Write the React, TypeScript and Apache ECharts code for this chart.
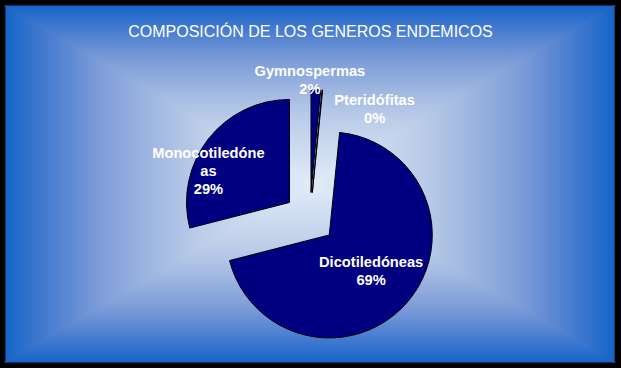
import React, { useEffect, useRef } from "react";
import * as echarts from "echarts";

const categories = ["Gymnospermas", "Pteridófitas", "Dicotiledóneas", "Monocotiledóneas"];
const displayNames = ["Gymnospermas", "Pteridófitas", "Dicotiledóneas", "Monocotiledóne\nas"];
const values = [1.5, 0.1, 69.4, 29.0];
const titleText = "COMPOSICIÓN DE LOS GENEROS ENDEMICOS";

// label nudges (px) relative to the "inside" position
const labelShift = [
  [-3.7, -57.8],
  [57, -29.2],
  [0.5, 0.3],
  [-38, 2],
];

const W = 621;
const H = 368;
const X0 = 6, X1 = 614, Y0 = 6, Y1 = 362;
const CX = 310, CY = 184;

const stops = [
  { offset: 0, color: "#1565C8" },
  { offset: 0.11, color: "#3E77CE" },
  { offset: 0.31, color: "#7E9DD8" },
  { offset: 0.53, color: "#A9BEE3" },
  { offset: 0.64, color: "#BCCDE9" },
  { offset: 1, color: "#E2ECF8" },
];

function grad(x: number, y: number, x2: number, y2: number) {
  return new echarts.graphic.LinearGradient(x, y, x2, y2, stops);
}

function tri(points: number[][], g: [number, number, number, number]) {
  return {
    type: "polygon",
    z: -10,
    silent: true,
    shape: { points },
    style: { fill: grad(...g), stroke: grad(...g), lineWidth: 1.2 },
  };
}

export default function App() {
  const ref = useRef<HTMLDivElement>(null);
  useEffect(() => {
    if (!ref.current) return;
    const chart = echarts.init(ref.current, null, { renderer: "svg" });
    const font = "'Liberation Sans', Arial, sans-serif";
    chart.setOption({
      animation: false,
      backgroundColor: "#000",
      title: {
        text: titleText,
        left: "center",
        top: 18,
        textStyle: {
          color: "#fff",
          fontFamily: font,
          fontSize: 16,
          fontWeight: "normal",
          lineHeight: 16,
        },
      },
      graphic: [
        {
          type: "rect",
          z: -20,
          silent: true,
          shape: { x: X0, y: Y0, width: X1 - X0, height: Y1 - Y0 },
          style: { fill: "#1565C8" },
        },
        tri([[X0, Y0], [X1, Y0], [CX, CY]], [0, 0, 0, 1]),
        tri([[X0, Y1], [X1, Y1], [CX, CY]], [0, 1, 0, 0]),
        tri([[X0, Y0], [X0, Y1], [CX, CY]], [0, 0, 1, 0]),
        tri([[X1, Y0], [X1, Y1], [CX, CY]], [1, 0, 0, 0]),
      ],
      series: [
        {
          type: "pie",
          center: [309.8, 218.2],
          radius: 103,
          startAngle: 90,
          clockwise: true,
          selectedMode: "multiple",
          selectedOffset: 25.7,
          avoidLabelOverlap: false,
          emphasis: { disabled: true },
          itemStyle: { color: "#000080", borderColor: "#000", borderWidth: 1 },
          select: {
            itemStyle: { color: "#000080", borderColor: "#000", borderWidth: 1 },
            label: { color: "#fff" },
          },
          label: {
            show: true,
            position: "inside",
            color: "#fff",
            fontFamily: font,
            fontSize: 14.67,
            fontWeight: "bold",
            lineHeight: 18,
            align: "center",
            formatter: (p: any) => `${displayNames[p.dataIndex]}\n${Math.round(p.percent)}%`,
          },
          labelLine: { show: false },
          labelLayout: (p: any) => ({ dx: labelShift[p.dataIndex][0], dy: labelShift[p.dataIndex][1] }),
          data: categories.map((c, i) => ({ name: c, value: values[i], selected: true })),
        },
      ],
    });
    return () => chart.dispose();
  }, []);
  return (
    <div
      ref={ref}
      style={{ position: "fixed", left: 0, top: 0, width: W, height: H, background: "#000" }}
    />
  );
}
